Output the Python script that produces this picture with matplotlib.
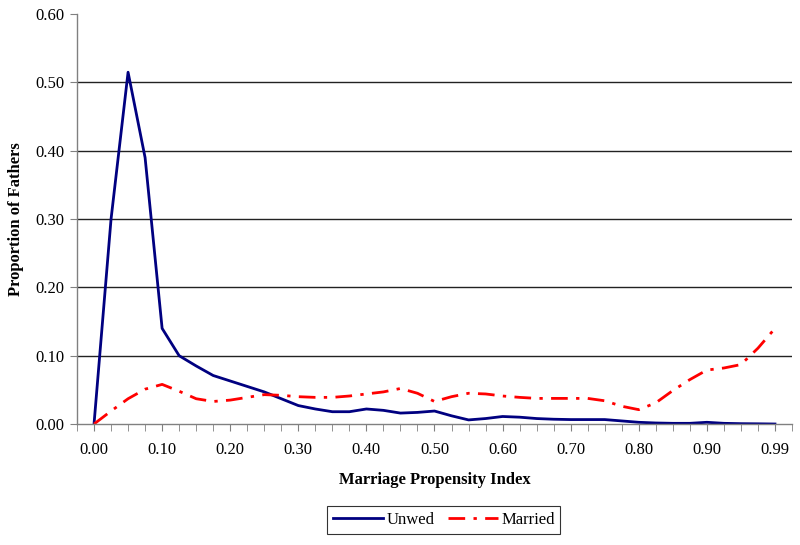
import numpy as np
import matplotlib.pyplot as plt

# marriage propensity index (category axis, steps of 0.025)
index_labels = ['0.00', '0.10', '0.20', '0.30', '0.40', '0.50',
                '0.60', '0.70', '0.80', '0.90', '0.99']

unwed = [0.000, 0.300, 0.515, 0.390, 0.140, 0.100, 0.085, 0.071, 0.063, 0.055,
         0.047, 0.037, 0.027, 0.022, 0.018, 0.018, 0.022, 0.020, 0.016, 0.017,
         0.019, 0.012, 0.006, 0.008, 0.011, 0.010, 0.008, 0.007, 0.0065, 0.0065,
         0.0065, 0.0045, 0.0025, 0.0015, 0.001, 0.001, 0.0025, 0.001, 0.0005, 0.0003,
         0.000]

married = [0.000, 0.019, 0.037, 0.051, 0.058, 0.048, 0.037, 0.033, 0.035, 0.039,
           0.043, 0.042, 0.040, 0.039, 0.039, 0.041, 0.044, 0.047, 0.052, 0.045,
           0.033, 0.040, 0.045, 0.044, 0.041, 0.039, 0.0375, 0.0375, 0.0375, 0.0375,
           0.034, 0.026, 0.021, 0.031, 0.049, 0.065, 0.079, 0.082, 0.087, 0.111,
           0.140]

plt.rcParams['font.family'] = ['Liberation Serif', 'DejaVu Serif']

x = np.arange(len(unwed))

fig = plt.figure(figsize=(8, 5.45), dpi=100)
ax = fig.add_axes([0.09625, 0.222, 0.89375, 0.752])

ax.plot(x, unwed, color='#000080', linewidth=2.0, label='Unwed')
ax.plot(x, married, color='#FF0000', linewidth=2.0, linestyle=(0, (6, 3, 1.2, 3)),
        label='Married')

ax.set_xlim(-1, len(unwed))
ax.set_ylim(0, 0.60)

ax.set_xticks(x[::4])
ax.set_xticklabels(index_labels, fontsize=12)
ax.set_xticks(np.arange(-1, len(unwed) + 1), minor=True)
ax.tick_params(axis='x', which='both', direction='out', length=5, color='#808080', pad=8)

yt = np.arange(0, 0.61, 0.10)
ax.set_yticks(yt)
ax.set_yticklabels(['%.2f' % v for v in yt], fontsize=12)
ax.tick_params(axis='y', direction='out', length=5, color='#808080', pad=4)

for v in yt[1:-1]:
    ax.axhline(v, color='#222222', linewidth=1.0, zorder=0)

for s in ['top', 'right']:
    ax.spines[s].set_visible(False)
for s in ['left', 'bottom']:
    ax.spines[s].set_color('#808080')
    ax.spines[s].set_linewidth(1.0)

ax.set_xlabel('Marriage Propensity Index', fontsize=12, fontweight='bold', labelpad=10)
ax.set_ylabel('Proportion of Fathers', fontsize=12, fontweight='bold', labelpad=8)

leg = ax.legend(loc='center', bbox_to_anchor=(0.513, -0.235), ncol=2, fontsize=12,
                frameon=True, fancybox=False, handlelength=3, columnspacing=0.8,
                handletextpad=0.2, borderpad=0.35)
leg.get_frame().set_edgecolor('black')
leg.get_frame().set_linewidth(0.8)

fig.savefig('out.png', dpi=100)
